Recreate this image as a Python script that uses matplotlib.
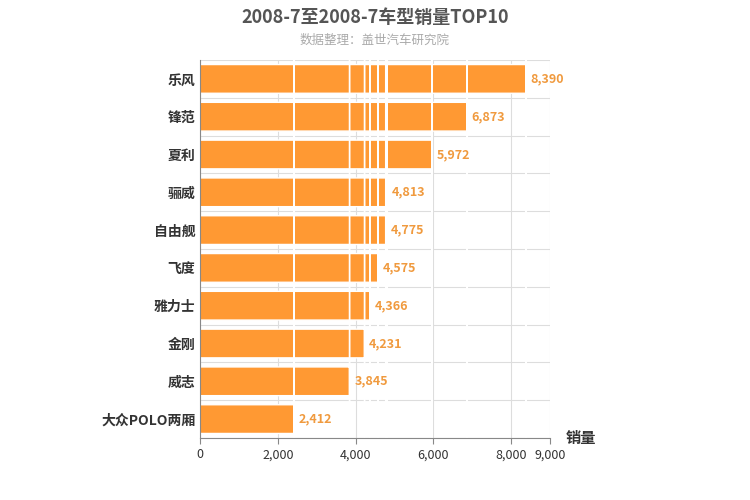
import matplotlib.pyplot as plt
from matplotlib.patches import FancyBboxPatch

plt.rcParams["font.family"] = "Noto Sans CJK SC"

models = ["乐风", "锋范", "夏利", "骊威", "自由舰", "飞度", "雅力士", "金刚", "威志", "大众POLO两厢"]
sales = [8390, 6873, 5972, 4813, 4775, 4575, 4366, 4231, 3845, 2412]
xticks = [0, 2000, 4000, 6000, 8000, 9000]

fig = plt.figure(figsize=(7.5, 5), dpi=100)
ax = fig.add_axes([0.267, 0.124, 0.466, 0.756])
n = len(models)
ax.set_xlim(0, 9000)
ax.set_ylim(n, 0)

for i, v in enumerate(sales):
    ax.add_patch(FancyBboxPatch((0, i + 0.12), v, 0.76,
                                boxstyle="round,pad=0,rounding_size=0.2",
                                mutation_aspect=400, fc="#FF9933", ec="white", lw=1))
    ax.text(v + 120, i + 0.5, f"{v:,}", va="center", ha="left",
            color="#F09A3E", fontsize=9, fontweight="bold")

ax.set_yticks([i + 0.5 for i in range(n)])
ax.set_yticklabels(models, fontsize=10, fontweight="bold", color="#333333")
ax.set_yticks(range(n + 1), minor=True)
ax.set_xticks(xticks)
ax.set_xticklabels([f"{x:,}" for x in xticks], fontsize=9, color="#333333")
ax.grid(axis="x", color="#DDDDDD", lw=0.8)
ax.grid(axis="y", which="minor", color="#DDDDDD", lw=0.8)
ax.set_axisbelow(True)
ax.tick_params(axis="y", which="both", length=0)
ax.tick_params(axis="x", length=4, color="#888888")
for s in ["top", "right"]:
    ax.spines[s].set_visible(False)
ax.spines["left"].set_color("#888888")
ax.spines["bottom"].set_color("#888888")

fig.text(0.5, 0.965, "2008-7至2008-7车型销量TOP10", ha="center", va="center",
         fontsize=13, fontweight="bold", color="#555555")
fig.text(0.5, 0.92, "数据整理：盖世汽车研究院", ha="center", va="center",
         fontsize=9, color="#AAAAAA")
fig.text(0.775, 0.124, "销量", ha="center", va="center", fontsize=11,
         fontweight="bold", color="#333333")

fig.savefig("out.png", dpi=100)
